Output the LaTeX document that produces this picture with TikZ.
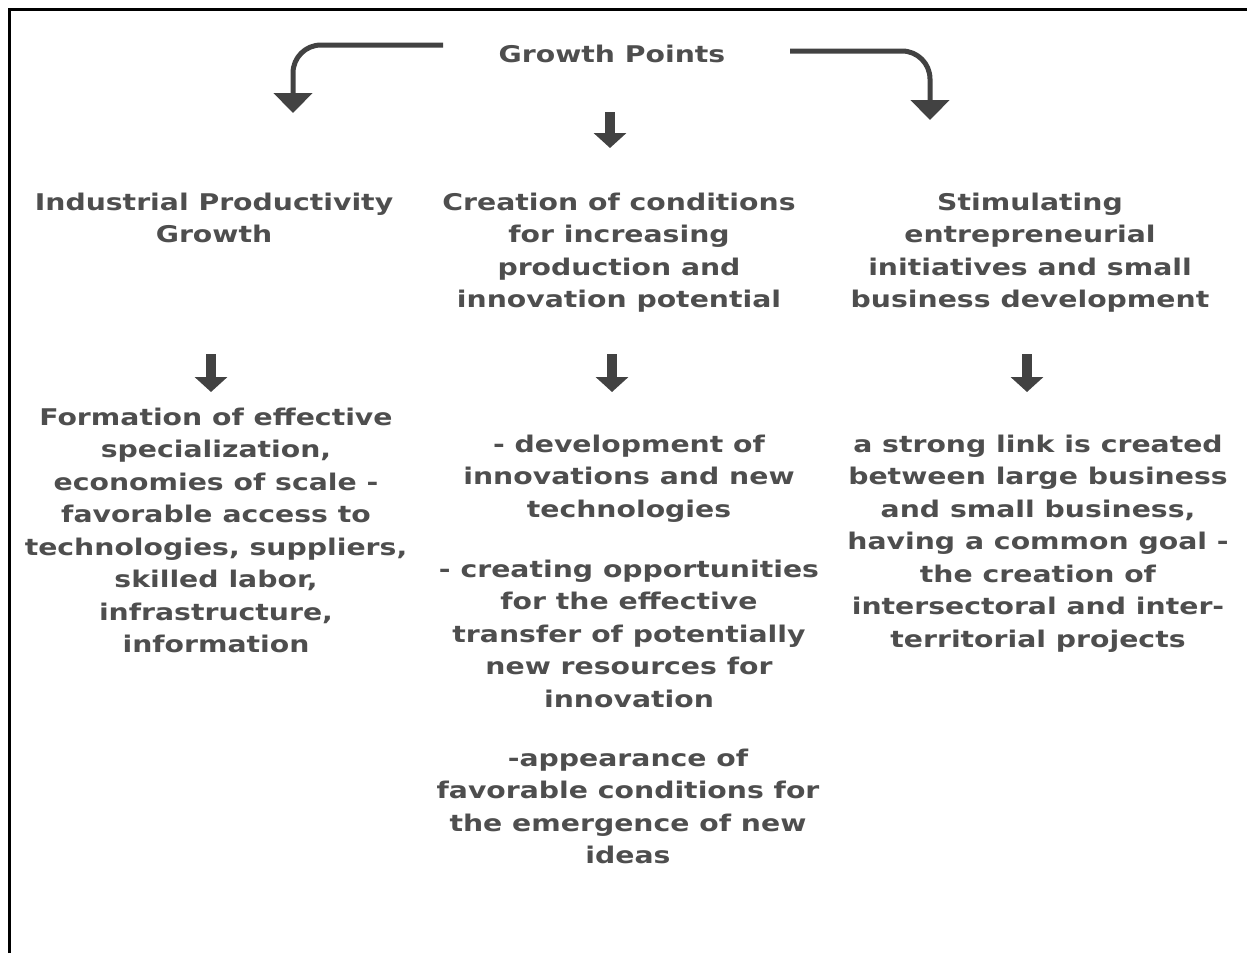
\documentclass[tikz,border=0pt]{standalone}
\usepackage{fontspec}
\setmainfont{DejaVu Sans}[FakeStretch=1.23]
\usetikzlibrary{arrows.meta}
\definecolor{txtgray}{RGB}{78,78,78}
\definecolor{arrgray}{RGB}{66,66,66}

\begin{document}
\begin{tikzpicture}[x=1pt,y=-1pt,
        lbl/.style={font=\fontsize{23}{32.5}\selectfont\bfseries,text=txtgray,align=center,anchor=base,inner sep=0pt},
        bendarrow/.style={draw=arrgray,line width=5pt,rounded corners=28pt,-{Triangle[width=38pt,length=20pt]}},
        downarrow/.style={draw=arrgray,line width=10pt,-{Triangle[width=32pt,length=15pt]}}]
    \useasboundingbox (0,0) rectangle (1247,953);
    \draw[line width=3pt] (9,953) -- (9,9) -- (1247,9);

    % base of a node = baseline of its last line
    \node[lbl] (title) at (612,62) {Growth Points};

    \node[lbl] (prod) at (214,242.5) {Industrial Productivity\\Growth};
    \node[lbl] (cond) at (619,307.5) {Creation of conditions\\for increasing\\production and\\innovation potential};
    \node[lbl] (entr) at (1030,307.5) {Stimulating\\entrepreneurial\\initiatives and small\\business development};

    \node[lbl] (spec) at (216,652.5) {Formation of effective\\specialization,\\economies of scale -\\favorable access to\\technologies, suppliers,\\skilled labor,\\infrastructure,\\information};
    \node[lbl] (innov) at (629,517) {- development of\\innovations and new\\technologies};
    \node[lbl] (transfer) at (629,707) {- creating opportunities\\for the effective\\transfer of potentially\\new resources for\\innovation};
    \node[lbl] (ideas) at (628,863.5) {-appearance of\\favorable conditions for\\the emergence of new\\ideas};
    \node[lbl] (link) at (1038,647) {a strong link is created\\between large business\\and small business,\\having a common goal -\\the creation of\\intersectoral and inter-\\territorial projects};

    % arrows out of the title
    \coordinate (lstart) at (443,45);
    \coordinate (lend) at (293,113);
    \coordinate (rstart) at (790,51);
    \coordinate (rend) at (930,120);
    \draw[bendarrow] (lstart) -| (lend);
    \draw[bendarrow] (rstart) -| (rend);
    \coordinate (mstart) at (610,112);
    \coordinate (mend) at (610,148);
    \draw[downarrow] (mstart) -- (mend);

    % arrows down to the lower texts
    \foreach \name/\x in {pa/211,ca/612,ea/1027}{
        \coordinate (\name top) at (\x,354);
        \coordinate (\name bot) at (\x,392);
        \draw[downarrow] (\name top) -- (\name bot);
    }
\end{tikzpicture}
\end{document}
